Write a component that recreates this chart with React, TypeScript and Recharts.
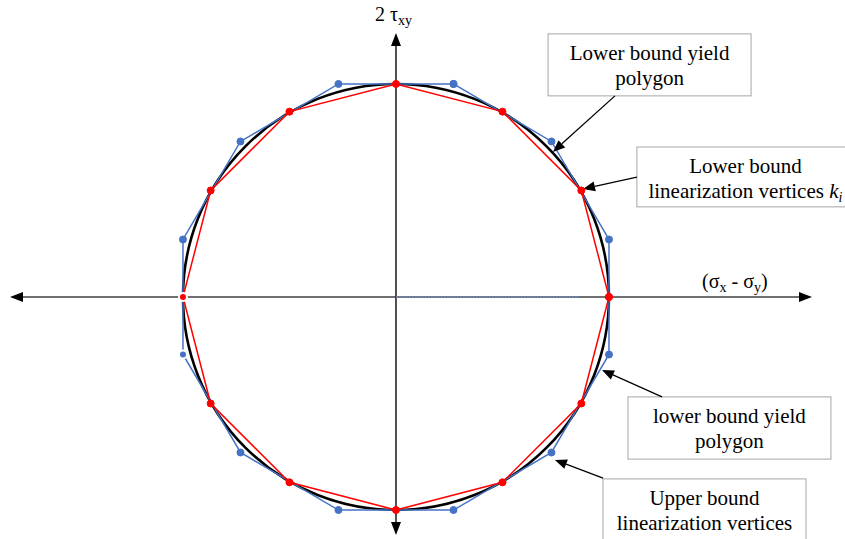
import React from 'react';
import {
  ComposedChart,
  Line,
  XAxis,
  YAxis,
  ReferenceLine,
  ReferenceArea,
  ReferenceDot,
} from 'recharts';

// ---------- data (units: yield circle radius = 100) ----------
const lowerBoundVertices = [
  { x: 100, y: 0 },
  { x: 87, y: 50 },
  { x: 50, y: 87 },
  { x: 0, y: 100 },
  { x: -50, y: 87 },
  { x: -87, y: 50 },
  { x: -100, y: 0 },
  { x: -87, y: -50 },
  { x: -50, y: -87 },
  { x: 0, y: -100 },
  { x: 50, y: -87 },
  { x: 87, y: -50 },
  { x: 100, y: 0 },
];

const upperBoundVertices = [
  { x: 27, y: 100 },
  { x: 73, y: 73 },
  { x: 100, y: 27 },
  { x: 100, y: -27 },
  { x: 73, y: -73 },
  { x: 27, y: -100 },
  { x: -27, y: -100 },
  { x: -73, y: -73 },
  { x: -100, y: -27 },
  { x: -100, y: 27 },
  { x: -73, y: 73 },
  { x: -27, y: 100 },
  { x: 27, y: 100 },
];

// yield circle: centre and radius
const yieldCircle = { cx: 0, cy: 0, r: 100 };

const annotationTexts = [
  ['Lower bound yield', 'polygon'],
  ['Lower bound', 'linearization vertices '],
  ['lower bound yield', 'polygon'],
  ['Upper bound', 'linearization vertices'],
];

// ---------- layout ----------
const W = 845;
const H = 539;
const X_DOMAIN: [number, number] = [-185.9, 210.8];
const Y_DOMAIN: [number, number] = [-113.6, 139.4];
const FONT = "'Liberation Serif', 'Times New Roman', serif";

const BOXES = [
  { x1: 71.4, x2: 166.7, y1: 94.4, y2: 123.5 },
  { x1: 113.1, x2: 215.0, y1: 42.3, y2: 70.4 },
  { x1: 108.9, x2: 204.2, y1: -76.1, y2: -46.9 },
  { x1: 97.2, x2: 192.5, y1: -116.4, y2: -85.4 },
];

const ARROWS = [
  [{ x: 102.8, y: 94.4 }, { x: 73.7, y: 68.1 }],
  [{ x: 113.1, y: 56.3 }, { x: 87.8, y: 50.7 }],
  [{ x: 124.9, y: -46.9 }, { x: 96.7, y: -34.3 }],
  [{ x: 97.2, y: -85.0 }, { x: 74.6, y: -76.5 }],
];

const H_AXIS = [{ x: -181.2, y: 0 }, { x: 195.3, y: 0 }];
const V_AXIS = [{ x: 0, y: -111.7 }, { x: 0, y: 123.9 }];

const textStyle: React.CSSProperties = { fontFamily: FONT, fill: '#000' };

function headPoints(x1: number, y1: number, x2: number, y2: number, len: number, half: number) {
  const dx = x2 - x1;
  const dy = y2 - y1;
  const L = Math.hypot(dx, dy) || 1;
  const ux = dx / L;
  const uy = dy / L;
  const bx = x2 - ux * len;
  const by = y2 - uy * len;
  return {
    pts: `${x2},${y2} ${bx - uy * half},${by + ux * half} ${bx + uy * half},${by - ux * half}`,
    bx,
    by,
  };
}

const axisShape = (color: string) => (p: any) => {
  const { x1, y1, x2, y2 } = p;
  const a = headPoints(x1, y1, x2, y2, 13, 5);
  const b = headPoints(x2, y2, x1, y1, 13, 5);
  return (
    <g>
      <line x1={b.bx} y1={b.by} x2={a.bx} y2={a.by} stroke={color} strokeWidth={1.6} />
      <polygon points={a.pts} fill="#000" />
      <polygon points={b.pts} fill="#000" />
    </g>
  );
};

const pointerShape = (p: any) => {
  const { x1, y1, x2, y2 } = p;
  const a = headPoints(x1, y1, x2, y2, 12, 5);
  return (
    <g>
      <line x1={x1} y1={y1} x2={a.bx} y2={a.by} stroke="#000" strokeWidth={1.3} />
      <polygon points={a.pts} fill="#000" />
    </g>
  );
};

const boxShape = (idx: number) => (p: any) => {
  const { x, y, width, height } = p;
  const cx = x + width / 2;
  const lines = annotationTexts[idx];
  return (
    <g>
      <rect x={x} y={y} width={width} height={height} fill="#fff" stroke="#a6a6a6" strokeWidth={1} />
      <text x={cx} y={y + 26} textAnchor="middle" fontSize={21} style={textStyle}>
        {lines[0]}
      </text>
      <text x={cx} y={y + 51} textAnchor="middle" fontSize={21} style={textStyle}>
        {lines[1]}
        {idx === 1 ? (
          <>
            <tspan fontStyle="italic">k</tspan>
            <tspan fontStyle="italic" fontSize={14} dy={4}>i</tspan>
          </>
        ) : null}
      </text>
    </g>
  );
};

// circle inscribed in the scaled bounding box of the yield circle
const circleShape = (p: any) => {
  const { x, y, width, height } = p;
  return (
    <ellipse
      cx={x + width / 2}
      cy={y + height / 2}
      rx={Math.abs(width) / 2}
      ry={Math.abs(height) / 2}
      fill="none"
      stroke="#000"
      strokeWidth={2.6}
    />
  );
};

const tauLabel = (p: any) => (
  <text x={p.cx} y={p.cy} fontSize={20} style={textStyle}>
    <tspan>2 τ</tspan>
    <tspan fontSize={14} dy={4}>xy</tspan>
  </text>
);

const sigmaLabel = (p: any) => (
  <text x={p.cx} y={p.cy} fontSize={20} style={textStyle}>
    <tspan>(σ</tspan>
    <tspan fontSize={14} dy={4}>x</tspan>
    <tspan dy={-4}> - σ</tspan>
    <tspan fontSize={14} dy={4}>y</tspan>
    <tspan dy={-4}>)</tspan>
  </text>
);

export default function App() {
  return (
    <div style={{ position: 'absolute', left: 0, top: 0, width: W, height: H, background: '#fff' }}>
      <ComposedChart width={W} height={H} margin={{ top: 0, right: 0, bottom: 0, left: 0 }}>
        <XAxis type="number" dataKey="x" domain={X_DOMAIN} allowDataOverflow hide />
        <YAxis type="number" dataKey="y" domain={Y_DOMAIN} allowDataOverflow hide />

        <ReferenceLine segment={H_AXIS} ifOverflow="visible" shape={axisShape('#404040')} />
        <ReferenceLine segment={V_AXIS} ifOverflow="visible" shape={axisShape('#262626')} />
        <ReferenceLine
          segment={[{ x: 0, y: 0 }, { x: 86, y: 0 }]}
          ifOverflow="visible"
          stroke="#6f8fc4"
          strokeWidth={1.6}
          strokeDasharray="2 1.2"
        />

        <ReferenceArea
          x1={yieldCircle.cx - yieldCircle.r}
          x2={yieldCircle.cx + yieldCircle.r}
          y1={yieldCircle.cy - yieldCircle.r}
          y2={yieldCircle.cy + yieldCircle.r}
          ifOverflow="visible"
          shape={circleShape}
        />

        <Line
          data={upperBoundVertices}
          dataKey="y"
          type="linear"
          stroke="#4472c4"
          strokeWidth={1.5}
          dot={{ r: 3.5, fill: '#4472c4', stroke: '#4472c4', strokeWidth: 1 }}
          isAnimationActive={false}
        />
        <Line
          data={lowerBoundVertices}
          dataKey="y"
          type="linear"
          stroke="#ff0000"
          strokeWidth={1.5}
          dot={{ r: 3.5, fill: '#ff0000', stroke: '#ff0000', strokeWidth: 1 }}
          isAnimationActive={false}
        />

        {BOXES.map((b, i) => (
          <ReferenceArea key={`b${i}`} {...b} ifOverflow="visible" shape={boxShape(i)} />
        ))}
        {ARROWS.map((a, i) => (
          <ReferenceLine key={`a${i}`} segment={a} ifOverflow="visible" shape={pointerShape} />
        ))}

        <ReferenceDot x={-9.9} y={129.6} r={0} ifOverflow="visible" shape={tauLabel} />
        <ReferenceDot x={143.7} y={4.2} r={0} ifOverflow="visible" shape={sigmaLabel} />
      </ComposedChart>
    </div>
  );
}
